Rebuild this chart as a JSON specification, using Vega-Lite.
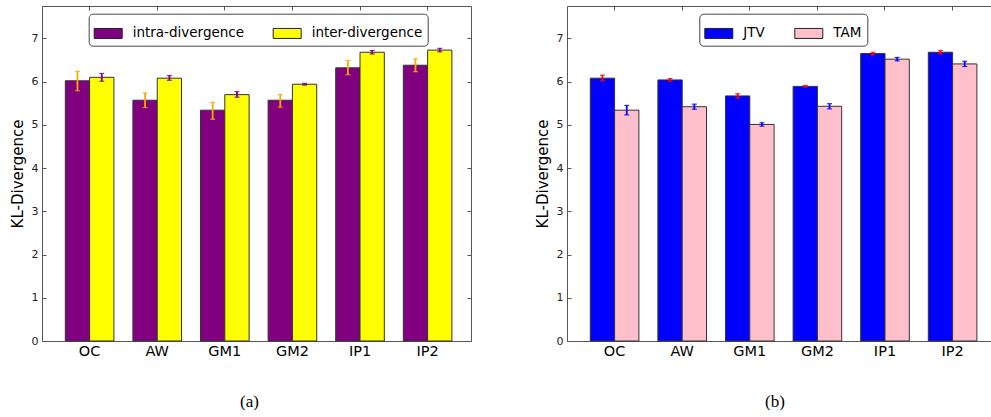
{
  "$schema": "https://vega.github.io/schema/vega-lite/v6.json",
  "background": "white",
  "padding": {"left": 10, "top": 5, "right": 0, "bottom": 0},
  "config": {
    "view": {"stroke": null},
    "font": "DejaVu Sans",
    "axis": {"grid": false, "domainColor": "#555", "tickColor": "#555", "labelFont": "DejaVu Sans", "titleFont": "DejaVu Sans", "titleFontWeight": "normal"},
    "title": {"font": "Liberation Serif", "fontSize": 17, "fontWeight": "normal", "color": "#000"}
  },
  "datasets": {
    "left": [
      {"cat": "OC", "series": "intra-divergence", "value": 6.02, "lo": 5.79, "hi": 6.24},
      {"cat": "OC", "series": "inter-divergence", "value": 6.10, "lo": 6.01, "hi": 6.19},
      {"cat": "AW", "series": "intra-divergence", "value": 5.57, "lo": 5.40, "hi": 5.74},
      {"cat": "AW", "series": "inter-divergence", "value": 6.08, "lo": 6.03, "hi": 6.14},
      {"cat": "GM1", "series": "intra-divergence", "value": 5.34, "lo": 5.13, "hi": 5.52},
      {"cat": "GM1", "series": "inter-divergence", "value": 5.70, "lo": 5.64, "hi": 5.77},
      {"cat": "GM2", "series": "intra-divergence", "value": 5.57, "lo": 5.41, "hi": 5.70},
      {"cat": "GM2", "series": "inter-divergence", "value": 5.94, "lo": 5.92, "hi": 5.96},
      {"cat": "IP1", "series": "intra-divergence", "value": 6.32, "lo": 6.16, "hi": 6.49},
      {"cat": "IP1", "series": "inter-divergence", "value": 6.68, "lo": 6.64, "hi": 6.72},
      {"cat": "IP2", "series": "intra-divergence", "value": 6.38, "lo": 6.23, "hi": 6.53},
      {"cat": "IP2", "series": "inter-divergence", "value": 6.73, "lo": 6.69, "hi": 6.77}
    ],
    "right": [
      {"cat": "OC", "series": "JTV", "value": 6.08, "lo": 6.02, "hi": 6.15},
      {"cat": "OC", "series": "TAM", "value": 5.34, "lo": 5.23, "hi": 5.45},
      {"cat": "AW", "series": "JTV", "value": 6.04, "lo": 6.01, "hi": 6.07},
      {"cat": "AW", "series": "TAM", "value": 5.42, "lo": 5.36, "hi": 5.48},
      {"cat": "GM1", "series": "JTV", "value": 5.67, "lo": 5.62, "hi": 5.72},
      {"cat": "GM1", "series": "TAM", "value": 5.01, "lo": 4.97, "hi": 5.05},
      {"cat": "GM2", "series": "JTV", "value": 5.89, "lo": 5.87, "hi": 5.91},
      {"cat": "GM2", "series": "TAM", "value": 5.43, "lo": 5.37, "hi": 5.49},
      {"cat": "IP1", "series": "JTV", "value": 6.65, "lo": 6.62, "hi": 6.68},
      {"cat": "IP1", "series": "TAM", "value": 6.52, "lo": 6.48, "hi": 6.56},
      {"cat": "IP2", "series": "JTV", "value": 6.68, "lo": 6.64, "hi": 6.72},
      {"cat": "IP2", "series": "TAM", "value": 6.41, "lo": 6.35, "hi": 6.47}
    ]
  },
  "resolve": {"scale": {"xOffset": "independent", "color": "independent", "x": "independent", "y": "independent"}},
  "hconcat": [
    {
      "width": 429,
      "height": 335,
      "data": {"name": "left"},
      "title": {"text": "(a)", "orient": "bottom", "anchor": "middle", "offset": 36, "dx": -7},
      "layer": [
        {
          "mark": {"type": "bar", "stroke": "#333", "strokeWidth": 1},
          "encoding": {
            "x": {"field": "cat", "type": "nominal",
                  "scale": {"domain": ["OC", "AW", "GM1", "GM2", "IP1", "IP2"], "paddingInner": 0.281, "paddingOuter": 0.3136, "align": 0.55},
                  "axis": {"orient": "bottom", "title": null, "labelAngle": 0, "ticks": false, "labelPadding": 3, "labelFontSize": 14.5, "labelColor": "#000", "domainColor": "#555"}},
            "xOffset": {"field": "series", "type": "nominal", "scale": {"domain": ["intra-divergence", "inter-divergence"], "paddingInner": 0, "paddingOuter": 0}},
            "y": {"field": "value", "type": "quantitative", "scale": {"domain": [0, 7.75], "nice": false, "zero": true},
                  "axis": {"orient": "left", "title": "KL-Divergence", "titleFontSize": 15, "titleColor": "#000", "titlePadding": 6, "values": [0, 1, 2, 3, 4, 5, 6, 7], "tickSize": -4, "labelPadding": 8, "labelFontSize": 11, "labelColor": "#222"}},
            "color": {"field": "series", "type": "nominal",
                      "scale": {"domain": ["intra-divergence", "inter-divergence"], "range": ["#800080", "#ffff00"]},
                      "legend": {"orient": "none", "legendX": 46.7, "legendY": 7.7, "direction": "horizontal", "columns": 2, "title": null,
                                 "symbolType": "M-1,-0.357L1,-0.357L1,0.357L-1,0.357Z", "symbolSize": 784, "symbolStrokeColor": "#222", "symbolStrokeWidth": 1, "symbolOpacity": 1,
                                 "labelFont": "DejaVu Sans", "labelFontSize": 13.5, "labelColor": "#000", "labelOffset": 10, "columnPadding": 26, "padding": 5,
                                 "fillColor": "white", "strokeColor": "#444", "cornerRadius": 4}}
          }
        },
        {
          "mark": {"type": "rule", "strokeWidth": 1.8},
          "encoding": {
            "x": {"field": "cat", "type": "nominal",
                  "axis": {"orient": "top", "title": null, "labels": false, "tickSize": -4, "domainColor": "#555"}},
            "xOffset": {"field": "series", "type": "nominal"},
            "y": {"field": "lo", "type": "quantitative",
                  "axis": {"orient": "right", "title": null, "labels": false, "values": [0, 1, 2, 3, 4, 5, 6, 7], "tickSize": -4}},
            "y2": {"field": "hi"},
            "color": {"field": "series", "type": "nominal", "scale": {"domain": ["intra-divergence", "inter-divergence"], "range": ["#ffa500", "#800080"]}, "legend": null}
          }
        },
        {
          "mark": {"type": "tick", "size": 5, "thickness": 1.2, "opacity": 0.8},
          "encoding": {
            "x": {"field": "cat", "type": "nominal", "axis": null},
            "xOffset": {"field": "series", "type": "nominal"},
            "y": {"field": "hi", "type": "quantitative", "axis": null},
            "color": {"field": "series", "type": "nominal", "scale": {"domain": ["intra-divergence", "inter-divergence"], "range": ["#ffa500", "#800080"]}, "legend": null}
          }
        },
        {
          "mark": {"type": "tick", "size": 5, "thickness": 1.2, "opacity": 0.8},
          "encoding": {
            "x": {"field": "cat", "type": "nominal", "axis": null},
            "xOffset": {"field": "series", "type": "nominal"},
            "y": {"field": "lo", "type": "quantitative", "axis": null},
            "color": {"field": "series", "type": "nominal", "scale": {"domain": ["intra-divergence", "inter-divergence"], "range": ["#ffa500", "#800080"]}, "legend": null}
          }
        }
      ],
      "resolve": {"scale": {"color": "independent"}, "axis": {"x": "independent", "y": "independent"}}
    },
    {
      "width": 424,
      "height": 335,
      "data": {"name": "right"},
      "title": {"text": "(b)", "orient": "bottom", "anchor": "middle", "offset": 36, "dx": -4},
      "layer": [
        {
          "mark": {"type": "bar", "stroke": "#333", "strokeWidth": 1},
          "encoding": {
            "x": {"field": "cat", "type": "nominal",
                  "scale": {"domain": ["OC", "AW", "GM1", "GM2", "IP1", "IP2"], "paddingInner": 0.281, "paddingOuter": 0.2766, "align": 0.623},
                  "axis": {"orient": "bottom", "title": null, "labelAngle": 0, "ticks": false, "labelPadding": 3, "labelFontSize": 14.5, "labelColor": "#000", "domainColor": "#555"}},
            "xOffset": {"field": "series", "type": "nominal", "scale": {"domain": ["JTV", "TAM"], "paddingInner": 0, "paddingOuter": 0}},
            "y": {"field": "value", "type": "quantitative", "scale": {"domain": [0, 7.75], "nice": false, "zero": true},
                  "axis": {"orient": "left", "title": "KL-Divergence", "titleFontSize": 15, "titleColor": "#000", "titlePadding": 6, "values": [0, 1, 2, 3, 4, 5, 6, 7], "tickSize": -4, "labelPadding": 8, "labelFontSize": 11, "labelColor": "#222"}},
            "color": {"field": "series", "type": "nominal",
                      "scale": {"domain": ["JTV", "TAM"], "range": ["#0000ff", "#ffc0cb"]},
                      "legend": {"orient": "none", "legendX": 132.3, "legendY": 7.7, "direction": "horizontal", "columns": 2, "title": null,
                                 "symbolType": "M-1,-0.357L1,-0.357L1,0.357L-1,0.357Z", "symbolSize": 784, "symbolStrokeColor": "#222", "symbolStrokeWidth": 1, "symbolOpacity": 1,
                                 "labelFont": "DejaVu Sans", "labelFontSize": 13.5, "labelColor": "#000", "labelOffset": 10, "columnPadding": 27, "padding": 5,
                                 "fillColor": "white", "strokeColor": "#444", "cornerRadius": 4}}
          }
        },
        {
          "mark": {"type": "rule", "strokeWidth": 1.8},
          "encoding": {
            "x": {"field": "cat", "type": "nominal",
                  "axis": {"orient": "top", "title": null, "labels": false, "tickSize": -4, "domainColor": "#555"}},
            "xOffset": {"field": "series", "type": "nominal"},
            "y": {"field": "lo", "type": "quantitative", "axis": null},
            "y2": {"field": "hi"},
            "color": {"field": "series", "type": "nominal", "scale": {"domain": ["JTV", "TAM"], "range": ["#ff0000", "#0000ff"]}, "legend": null}
          }
        },
        {
          "mark": {"type": "tick", "size": 5, "thickness": 1.2, "opacity": 0.8},
          "encoding": {
            "x": {"field": "cat", "type": "nominal", "axis": null},
            "xOffset": {"field": "series", "type": "nominal"},
            "y": {"field": "hi", "type": "quantitative", "axis": null},
            "color": {"field": "series", "type": "nominal", "scale": {"domain": ["JTV", "TAM"], "range": ["#ff0000", "#0000ff"]}, "legend": null}
          }
        },
        {
          "mark": {"type": "tick", "size": 5, "thickness": 1.2, "opacity": 0.8},
          "encoding": {
            "x": {"field": "cat", "type": "nominal", "axis": null},
            "xOffset": {"field": "series", "type": "nominal"},
            "y": {"field": "lo", "type": "quantitative", "axis": null},
            "color": {"field": "series", "type": "nominal", "scale": {"domain": ["JTV", "TAM"], "range": ["#ff0000", "#0000ff"]}, "legend": null}
          }
        }
      ],
      "resolve": {"scale": {"color": "independent"}, "axis": {"x": "independent", "y": "independent"}}
    }
  ],
  "spacing": 63
}
